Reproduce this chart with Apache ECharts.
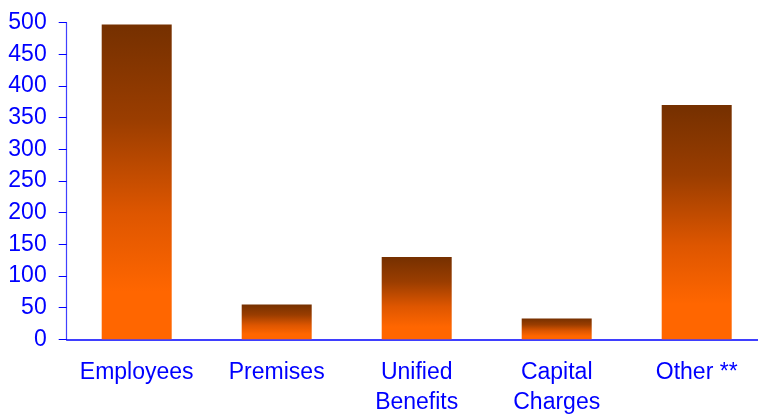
<!DOCTYPE html>
<html>
<head>
<meta charset="utf-8">
<script src="https://cdn.jsdelivr.net/npm/echarts@6/dist/echarts.min.js"></script>
<style>html,body{margin:0;padding:0;background:#fff}#c{width:758px;height:414px}</style>
</head>
<body>
<div id="c"></div>
<script>
var categories = ['Employees', 'Premises', 'Unified\nBenefits', 'Capital\nCharges', 'Other **'];
var values = [497, 55, 130, 33, 370];
var yTicks = { min: 0, max: 500, interval: 50 };

var chart = echarts.init(document.getElementById('c'), null, { renderer: 'canvas' });
var blue = '#0000ff';
var grad = new echarts.graphic.LinearGradient(0, 0, 0, 1, [
  { offset: 0, color: '#753000' },
  { offset: 0.3, color: '#9a3d00' },
  { offset: 0.6, color: '#de5600' },
  { offset: 0.85, color: '#ff6600' },
  { offset: 1, color: '#ff6600' }
]);
chart.setOption({
  animation: false,
  grid: { left: 66.7, top: 22.7, width: 700, height: 316.6, containLabel: false, outerBoundsMode: 'none' },
  xAxis: {
    type: 'category',
    data: categories,
    axisLine: { lineStyle: { color: blue, width: 1.5 } },
    axisTick: { length: 7, lineStyle: { color: '#4040ff', width: 1 } },
    axisLabel: { color: blue, fontFamily: 'Liberation Sans, Arial', fontSize: 23, margin: 18, lineHeight: 30, interval: 0, hideOverlap: false }
  },
  yAxis: {
    type: 'value',
    min: yTicks.min, max: yTicks.max, interval: yTicks.interval,
    splitLine: { show: false },
    axisLine: { show: true, lineStyle: { color: '#4040ff', width: 1.2 } },
    axisTick: { show: true, length: 8, lineStyle: { color: blue } },
    axisLabel: { color: blue, fontFamily: 'Liberation Sans, Arial', fontSize: 23, margin: 20 }
  },
  series: [{
    type: 'bar',
    data: values,
    barWidth: 70,
    itemStyle: { color: grad }
  }]
});
</script>
</body>
</html>
